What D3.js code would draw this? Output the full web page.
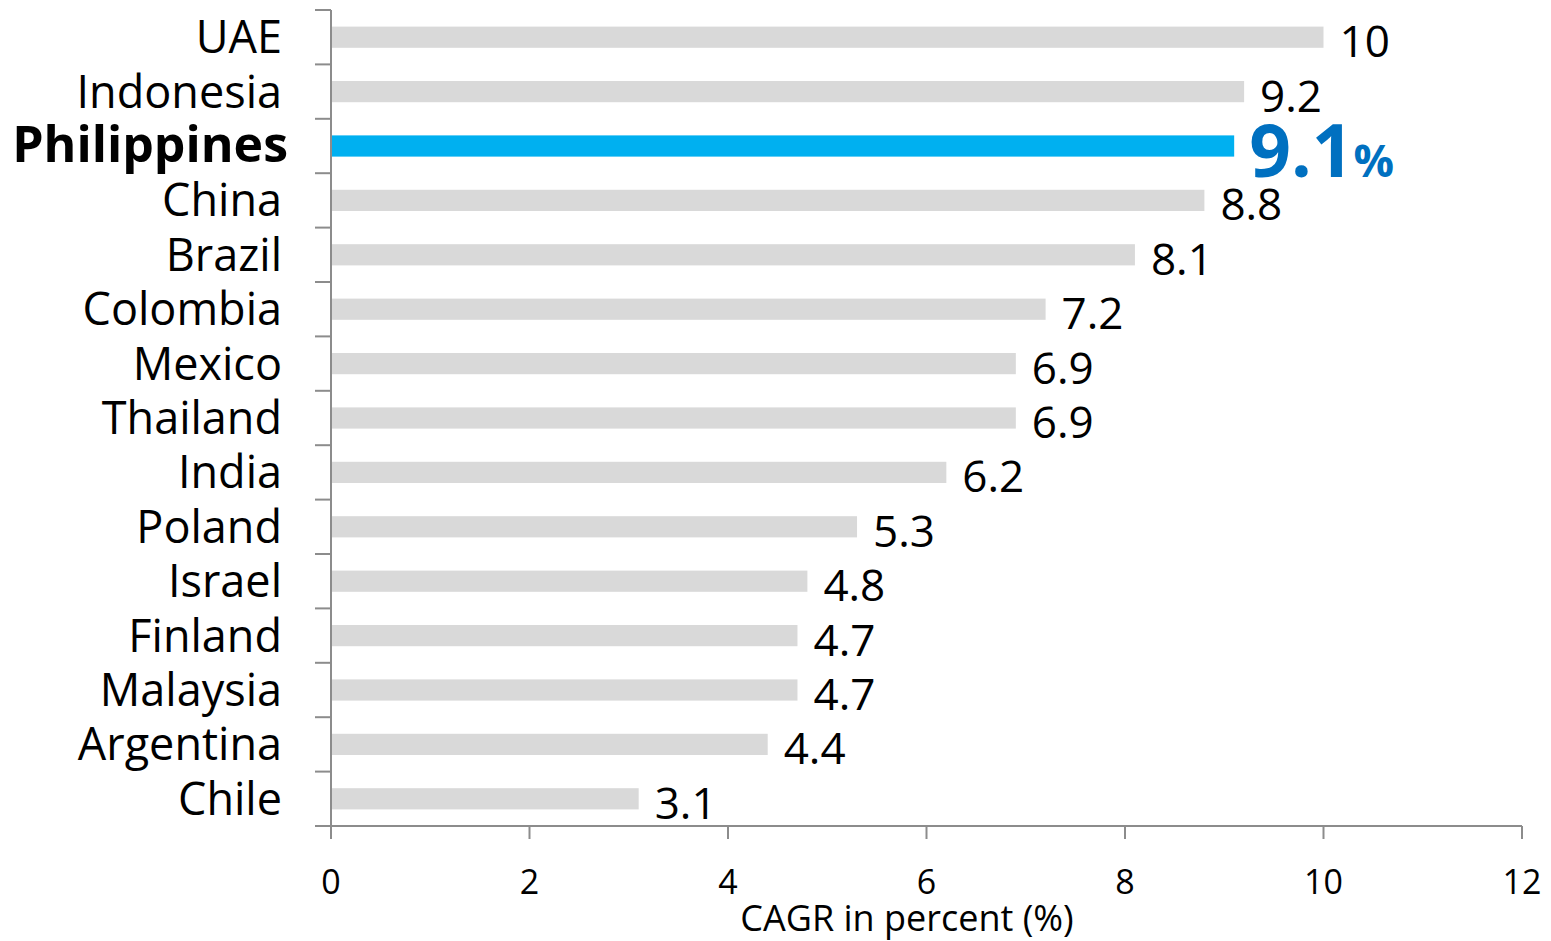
<!DOCTYPE html>
<html><head><meta charset="utf-8">
<script src="https://cdn.jsdelivr.net/npm/d3@7"></script>
<style>
html,body{margin:0;padding:0;background:#fff;}
text{font-family:"Open Sans","Noto Sans",sans-serif;}
</style></head>
<body>
<svg id="chart" width="1551" height="941"></svg>
<script>
const categories = ["UAE","Indonesia","Philippines","China","Brazil","Colombia","Mexico","Thailand","India","Poland","Israel","Finland","Malaysia","Argentina","Chile"];
const values = [10, 9.2, 9.1, 8.8, 8.1, 7.2, 6.9, 6.9, 6.2, 5.3, 4.8, 4.7, 4.7, 4.4, 3.1];
const valueLabels = ["10","9.2","9.1","8.8","8.1","7.2","6.9","6.9","6.2","5.3","4.8","4.7","4.7","4.4","3.1"];
const xTicks = [0,2,4,6,8,10,12];
const highlight = "Philippines";
const axisTitle = "CAGR in percent (%)";

(function(){
const svg = d3.select("#chart");
const mLeft = 331, mRight = 1522, mTop = 10, mBottom = 826;
const x = d3.scaleLinear().domain([0,12]).range([mLeft,mRight]);
const y = d3.scaleBand().domain(categories).range([mTop,mBottom]).paddingInner(0.61).paddingOuter(0.305);
const yTick = d3.scaleBand().domain(categories).range([mTop,mBottom]);
const axisColor = "#8c8c8c";

// bars
svg.selectAll("rect.bar").data(categories).enter().append("rect")
  .attr("x", x(0)).attr("y", d => y(d))
  .attr("width", (d,i) => x(values[i]) - x(0))
  .attr("height", y.bandwidth())
  .attr("fill", d => d === highlight ? "#00B0F0" : "#D9D9D9");

// y axis
svg.append("line").attr("x1", mLeft).attr("x2", mLeft).attr("y1", mTop).attr("y2", mBottom)
  .attr("stroke", axisColor).attr("stroke-width", 2);
const yTickPos = categories.map(c => yTick(c)).concat([mBottom]);
svg.selectAll("line.yt").data(yTickPos).enter().append("line")
  .attr("x1", mLeft - 16).attr("x2", mLeft).attr("y1", d => d).attr("y2", d => d)
  .attr("stroke", axisColor).attr("stroke-width", 2);

// x axis
svg.append("line").attr("x1", mLeft - 16).attr("x2", mRight).attr("y1", mBottom).attr("y2", mBottom)
  .attr("stroke", axisColor).attr("stroke-width", 2);
svg.selectAll("line.xt").data(xTicks).enter().append("line")
  .attr("x1", d => x(d)).attr("x2", d => x(d)).attr("y1", mBottom).attr("y2", mBottom + 13)
  .attr("stroke", axisColor).attr("stroke-width", 2);
svg.selectAll("text.xl").data(xTicks).enter().append("text")
  .attr("x", d => x(d)).attr("y", 894).attr("text-anchor", "middle")
  .attr("font-size", 34).attr("fill", "#000").text(d => d);
svg.append("text").attr("x", 907).attr("y", 931).attr("text-anchor", "middle")
  .attr("font-size", 36).attr("fill", "#000").text(axisTitle);

// category labels
svg.selectAll("text.cat").data(categories).enter().append("text")
  .attr("x", d => d === highlight ? 288 : 282)
  .attr("y", d => yTick(d) + yTick.bandwidth()/2 + 16)
  .attr("text-anchor", "end")
  .attr("font-size", d => d === highlight ? 50 : 45)
  .attr("font-weight", d => d === highlight ? "bold" : "normal")
  .attr("fill", "#000").text(d => d);

// value labels
categories.forEach((c,i) => {
  const t = svg.append("text")
    .attr("x", x(values[i]) + (c === highlight ? 15 : 16))
    .attr("y", yTick(c) + yTick.bandwidth()/2 + (c === highlight ? 31 : 20));
  if (c === highlight) {
    t.attr("fill", "#0070C0").attr("font-weight", "bold");
    t.append("tspan").attr("font-size", 73).text(valueLabels[i]);
    t.append("tspan").attr("font-size", 45).text("%");
  } else {
    t.attr("font-size", 44).attr("fill", "#000").text(valueLabels[i]);
  }
});
})();
</script>
</body></html>
